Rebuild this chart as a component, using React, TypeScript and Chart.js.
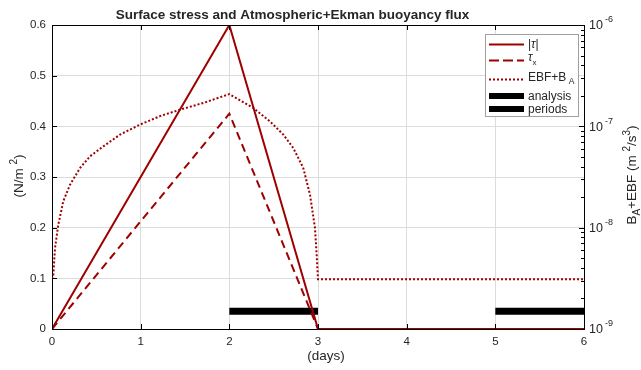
import React, { useEffect, useRef } from 'react';
import { Chart, registerables } from 'chart.js';

Chart.register(...registerables);

// ---- data ----
const tauDays = [0, 2, 3, 6];
const tauAbs = [0, 0.6, 0, 0];
const tauX = [0, 0.425, 0, 0];
const ebfDays = [0, 0.015, 0.034, 0.071, 0.127, 0.203, 0.316, 0.429, 0.579, 0.767, 0.992, 1.218, 1.443, 1.706, 2.0, 2.27, 2.458, 2.609, 2.721, 2.834, 2.91, 2.966, 2.985, 3.0, 6];
const ebfValues = [3.1e-9, 3.43e-9, 6.3e-9, 1.07e-8, 1.82e-8, 2.65e-8, 3.88e-8, 5.06e-8, 6.35e-8, 8.28e-8, 1.04e-7, 1.26e-7, 1.46e-7, 1.7e-7, 2.08e-7, 1.52e-7, 1.12e-7, 8.28e-8, 6.11e-8, 3.88e-8, 2.11e-8, 9.93e-9, 5.41e-9, 3.1e-9, 3.1e-9];
const analysisDays = [2, 3];
const periodsDays = [5, 6];
const barLevel = 0.035;
const xTicks = [0, 1, 2, 3, 4, 5, 6];
const leftTicks = [0, 0.1, 0.2, 0.3, 0.4, 0.5, 0.6];
const rightExponents = [-9, -8, -7, -6];
const titleText = 'Surface stress and Atmospheric+Ekman buoyancy flux';

const RED = '#9e0000';
const TXT = '#262626';
const FONT = '"Liberation Sans", Arial, Helvetica, sans-serif';

const pts = (xs: number[], ys: number[]) => xs.map((x, i) => ({ x, y: ys[i] }));

type Piece = { t: string; size: number; dy: number; style?: string };
function drawPieces(ctx: CanvasRenderingContext2D, x: number, y: number, pieces: Piece[]) {
  let cx = x;
  for (const p of pieces) {
    ctx.font = `${p.style || ''} ${p.size}px ${FONT}`;
    ctx.fillText(p.t, cx, y + p.dy);
    cx += ctx.measureText(p.t).width;
  }
  return cx;
}
function piecesWidth(ctx: CanvasRenderingContext2D, pieces: Piece[]) {
  let w = 0;
  for (const p of pieces) {
    ctx.font = `${p.style || ''} ${p.size}px ${FONT}`;
    w += ctx.measureText(p.t).width;
  }
  return w;
}

const overlay = {
  id: 'overlay',
  afterDraw(chart: any) {
    const ctx: CanvasRenderingContext2D = chart.ctx;
    const { left, right, top, bottom } = chart.chartArea;
    const xs = chart.scales.x;
    const ys = chart.scales.y;
    const y2 = chart.scales.y2;
    ctx.save();
    // box top
    ctx.strokeStyle = '#000';
    ctx.lineWidth = 1;
    ctx.beginPath();
    ctx.moveTo(left, top + 0.5);
    ctx.lineTo(right, top + 0.5);
    ctx.stroke();
    // inward ticks
    ctx.beginPath();
    for (const t of xTicks) {
      const px = Math.round(xs.getPixelForValue(t)) + 0.5;
      ctx.moveTo(px, bottom);
      ctx.lineTo(px, bottom - 5);
      ctx.moveTo(px, top);
      ctx.lineTo(px, top + 5);
    }
    for (const t of leftTicks) {
      const py = Math.round(ys.getPixelForValue(t)) + 0.5;
      ctx.moveTo(left, py);
      ctx.lineTo(left + 5, py);
    }
    for (const e of rightExponents) {
      const py = Math.round(y2.getPixelForValue(Math.pow(10, e))) + 0.5;
      ctx.moveTo(right, py);
      ctx.lineTo(right - 5, py);
      if (e < -6) {
        for (let k = 2; k <= 9; k++) {
          const pm = Math.round(y2.getPixelForValue(k * Math.pow(10, e))) + 0.5;
          ctx.moveTo(right, pm);
          ctx.lineTo(right - 3, pm);
        }
      }
    }
    ctx.stroke();

    ctx.fillStyle = TXT;
    // right tick labels
    ctx.textBaseline = 'middle';
    ctx.textAlign = 'left';
    for (const e of rightExponents) {
      const py = y2.getPixelForValue(Math.pow(10, e));
      ctx.font = `12.5px ${FONT}`;
      ctx.fillText('10', 589, py + 1);
      const w = ctx.measureText('10').width;
      ctx.font = `9px ${FONT}`;
      ctx.fillText(String(e), 589 + w + 2, py - 5);
    }

    // title
    ctx.font = `bold 13.5px ${FONT}`;
    ctx.textAlign = 'center';
    ctx.textBaseline = 'alphabetic';
    ctx.fillText(titleText, 292.5, 19);

    // x label
    ctx.font = `13.5px ${FONT}`;
    ctx.fillText('(days)', 326, 360);

    // left y label
    ctx.save();
    ctx.translate(23, 176);
    ctx.rotate(-Math.PI / 2);
    ctx.textAlign = 'left';
    const lp: Piece[] = [
      { t: '(N/m ', size: 13.5, dy: 0 },
      { t: '2', size: 10, dy: -6 },
      { t: ')', size: 13.5, dy: 0 },
    ];
    const lw = piecesWidth(ctx, lp);
    drawPieces(ctx, -lw / 2, 0, lp);
    ctx.restore();

    // right y label
    ctx.save();
    ctx.translate(636, 175);
    ctx.rotate(-Math.PI / 2);
    ctx.textAlign = 'left';
    const rp: Piece[] = [
      { t: 'B', size: 13.5, dy: 0 },
      { t: 'A', size: 10, dy: 4 },
      { t: '+EBF (m ', size: 13.5, dy: 0 },
      { t: '2', size: 10, dy: -6 },
      { t: '/s', size: 13.5, dy: 0 },
      { t: '3', size: 10, dy: -6 },
      { t: ')', size: 13.5, dy: 0 },
    ];
    const rw = piecesWidth(ctx, rp);
    drawPieces(ctx, -rw / 2, 0, rp);
    ctx.restore();

    // legend
    const lx = 485.5, ly = 34.5, lW = 93, lH = 82;
    ctx.fillStyle = '#fff';
    ctx.fillRect(lx, ly, lW, lH);
    ctx.strokeStyle = '#a0a0a0';
    ctx.lineWidth = 1;
    ctx.strokeRect(lx, ly, lW, lH);
    const sx0 = 489, sx1 = 524, tx = 528;
    const line = (y: number, color: string, w: number, dash: number[]) => {
      ctx.beginPath();
      ctx.setLineDash(dash);
      ctx.strokeStyle = color;
      ctx.lineWidth = w;
      ctx.lineCap = 'butt';
      ctx.moveTo(sx0, y);
      ctx.lineTo(sx1, y);
      ctx.stroke();
      ctx.setLineDash([]);
    };
    line(44.5, RED, 2, []);
    line(60.5, RED, 2, [10, 4]);
    line(79.5, RED, 2, [2, 2]);
    line(96, '#000', 6, []);
    line(109, '#000', 6, []);
    ctx.fillStyle = TXT;
    ctx.textAlign = 'left';
    ctx.textBaseline = 'middle';
    drawPieces(ctx, tx, 45, [
      { t: '|', size: 12, dy: 0 },
      { t: 'τ', size: 12, dy: 0, style: 'italic' },
      { t: '|', size: 12, dy: 0 },
    ]);
    drawPieces(ctx, tx, 58, [
      { t: 'τ', size: 12, dy: 0, style: 'italic' },
      { t: 'x', size: 8, dy: 5 },
    ]);
    drawPieces(ctx, tx, 78, [
      { t: 'EBF+B', size: 12, dy: 0 },
      { t: ' A', size: 8.5, dy: 4 },
    ]);
    drawPieces(ctx, tx, 96.5, [{ t: 'analysis', size: 12, dy: 0 }]);
    drawPieces(ctx, tx, 109.5, [{ t: 'periods', size: 12, dy: 0 }]);
    ctx.restore();
  },
};

export default function App() {
  const ref = useRef<HTMLCanvasElement | null>(null);
  useEffect(() => {
    if (!ref.current) return;
    Chart.defaults.font.family = FONT;
    const chart = new Chart(ref.current, {
      type: 'line',
      data: {
        datasets: [
          { label: '|τ|', data: pts(tauDays, tauAbs), borderColor: RED, borderWidth: 2, pointRadius: 0, yAxisID: 'y', order: 1 },
          { label: 'τx', data: pts(tauDays, tauX), borderColor: RED, borderWidth: 2, borderDash: [8, 5], pointRadius: 0, yAxisID: 'y', order: 2 },
          { label: 'EBF+BA', data: pts(ebfDays, ebfValues), borderColor: RED, borderWidth: 2, borderDash: [2, 2], pointRadius: 0, yAxisID: 'y2', order: 3 },
          { label: 'analysis', data: pts(analysisDays, [barLevel, barLevel]), borderColor: '#000', borderWidth: 7, borderCapStyle: 'butt', pointRadius: 0, yAxisID: 'y', order: 4 },
          { label: 'periods', data: pts(periodsDays, [barLevel, barLevel]), borderColor: '#000', borderWidth: 7, borderCapStyle: 'butt', pointRadius: 0, yAxisID: 'y', order: 5 },
        ],
      },
      options: {
        animation: false,
        responsive: false,
        devicePixelRatio: 1,
        layout: { padding: { top: 25, left: 0, right: 0, bottom: 0 } },
        plugins: { legend: { display: false }, title: { display: false }, tooltip: { enabled: false } },
        elements: { line: { tension: 0 } },
        scales: {
          x: {
            type: 'linear', min: 0, max: 6,
            ticks: { stepSize: 1, color: TXT, font: { size: 11.5 }, padding: 6 },
            grid: { color: '#dcdcdc', drawTicks: false },
            border: { color: '#000', width: 1 },
            afterFit: (s: any) => { s.height = 41; },
          },
          y: {
            type: 'linear', position: 'left', min: 0, max: 0.6,
            ticks: { stepSize: 0.1, color: TXT, font: { size: 11.5 }, padding: 6 },
            grid: { color: '#dcdcdc', drawTicks: false },
            border: { color: '#000', width: 1 },
            afterFit: (s: any) => { s.width = 52; },
          },
          y2: {
            type: 'logarithmic', position: 'right', min: 1e-9, max: 1e-6,
            ticks: { display: false },
            grid: { display: false, drawTicks: false },
            border: { color: '#000', width: 1 },
            afterFit: (s: any) => { s.width = 57; },
          },
        },
      },
      plugins: [overlay],
    } as any);
    return () => chart.destroy();
  }, []);
  return (
    <div style={{ position: 'absolute', left: 0, top: 0, width: 641, height: 370, background: '#fff' }}>
      <canvas ref={ref} width={641} height={370} />
    </div>
  );
}
